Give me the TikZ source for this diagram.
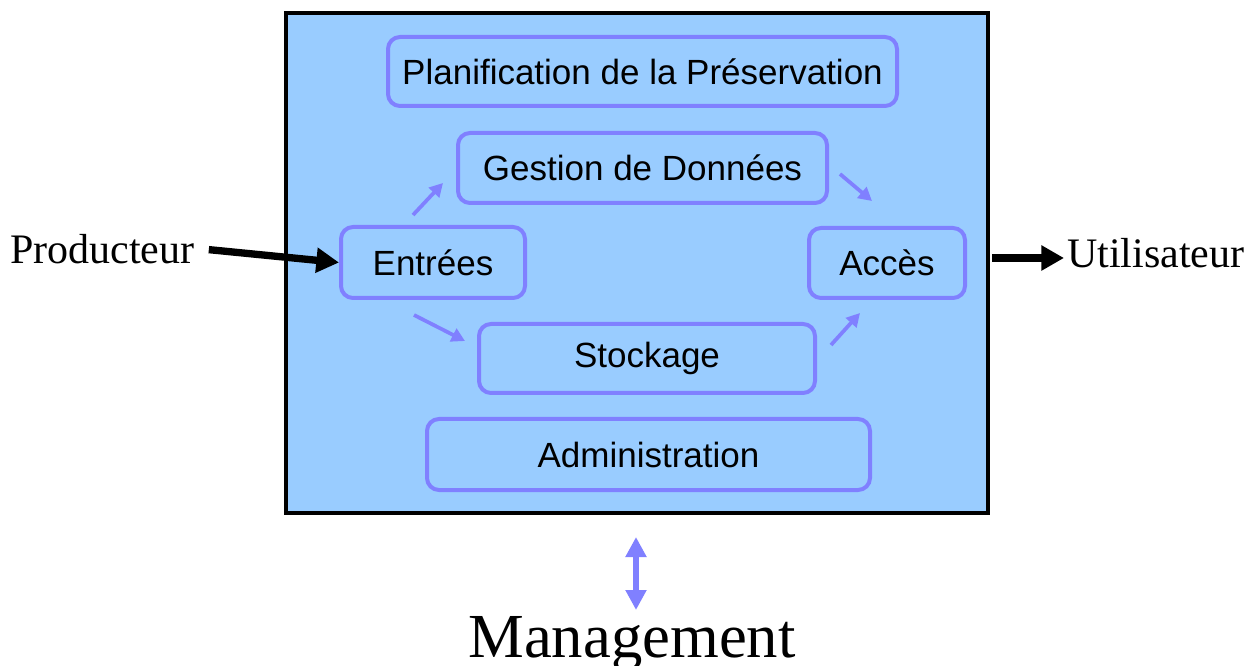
\documentclass[tikz,border=0pt]{standalone}
\usepackage{fontspec}
\setmainfont{Liberation Serif}
\newfontfamily\arialfont{Liberation Sans}
\usetikzlibrary{arrows.meta,calc}
\definecolor{panel}{HTML}{99CCFF}
\definecolor{frame}{HTML}{8080FF}
\begin{document}
\begin{tikzpicture}[x=0.75pt,y=-0.75pt,
  func/.style={draw=frame,line width=3pt,rounded corners=9pt,fill=panel,
    inner sep=0pt,font=\arialfont\fontsize{26.25pt}{30pt}\selectfont},
  flow/.style={draw=frame,line width=2.8pt,-{Triangle[length=10pt,width=10.5pt]}},
  bigarrow/.style={draw=black,line width=5.5pt,-{Triangle[length=17pt,width=18pt]}},
  outer/.style={font=\fontsize{31.5pt}{36pt}\selectfont,inner sep=0pt}]
\useasboundingbox (0,0) rectangle (1253,666);
% archive system frame
\node[draw=black,line width=3pt,fill=panel,minimum width=702*0.75pt,minimum height=500*0.75pt,inner sep=0pt]
  (sys) at (637,263) {};
% functional entities
\node[func,minimum width=509*0.75pt,minimum height=69*0.75pt] (pla) at (642.5,71.5) {Planification de la Préservation};
\node[func,minimum width=369*0.75pt,minimum height=70*0.75pt] (ges) at (642.5,168) {Gestion de Données};
\node[func,minimum width=184*0.75pt,minimum height=71*0.75pt] (ent) at (433,262.5) {Entrées};
\node[func,minimum width=156*0.75pt,minimum height=70*0.75pt] (acc) at (887,263) {Accès};
\node[func,minimum width=336*0.75pt,minimum height=69*0.75pt] (sto) at (647,358.5) {Stockage};
\node[func,minimum width=443*0.75pt,minimum height=71*0.75pt] (adm) at (648.5,454.5) {Administration};
% external actors
\node[outer,anchor=base west] (prod) at (10,264) {Producteur};
\node[outer,anchor=base west] (util) at (1067,268) {Utilisateur};
\node[inner sep=0pt,anchor=base,font=\fontsize{47pt}{54pt}\selectfont] (mgmt) at (632,657) {Management};
% internal flows
\draw[flow] ($(ent.north)+(-20,-10)$) -- ($(ges.west)+(-13,15)$);
\draw[flow] ($(ges.east)+(11,6)$) -- ($(acc.north)+(-15,-25)$);
\draw[flow] ($(ent.south)+(-19,15)$) -- ($(sto.west)+(-12,-17.5)$);
\draw[flow] ($(sto.east)+(14,-13.5)$) -- ($(acc.south)+(-27,13)$);
% exchanges with the outside
\draw[bigarrow] ($(prod.east)+(14,0)$) -- (ent.west);
\coordinate (accout) at ($(sys.east |- acc.east)+(2,-5)$);
\draw[bigarrow] (accout) -- ($(accout -| util.west)+(-3,0)$);
\coordinate (mtop) at ($(sys.south)+(-1,22)$);
\coordinate (mbot) at ($(mtop)+(0,73)$);
\draw[draw=frame,line width=4pt,{Triangle[length=15pt,width=15pt]}-{Triangle[length=15pt,width=15pt]}]
  (mtop) -- (mbot);
\end{tikzpicture}
\end{document}
